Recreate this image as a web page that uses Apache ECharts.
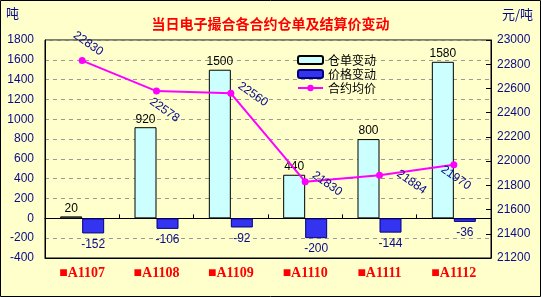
<!DOCTYPE html>
<html>
<head>
<meta charset="utf-8">
<script src="https://cdn.jsdelivr.net/npm/echarts@6/dist/echarts.min.js"></script>
<style>
html,body{margin:0;padding:0;background:#FFFFCC;}
#c{width:541px;height:297px;}
</style>
</head>
<body>
<div id="c"></div>
<script>
const categories = ['■A1107', '■A1108', '■A1109', '■A1110', '■A1111', '■A1112'];
const warehouseChange = [20, 920, 1500, 440, 800, 1580];
const priceChange = [-152, -106, -92, -200, -144, -36];
const avgPrice = [22830, 22578, 22560, 21830, 21884, 21970];
const leftTicks = { min: -400, max: 1800, interval: 200 };
const rightTicks = { min: 21200, max: 23000, interval: 200 };

const navy = '#0A0A8C';
const labelAngle = 35;
// desired on-screen label-centre shifts from each point
const lineLabelShifts = [[6, -17], [8, 19], [22, 1], [22, 2], [32, 7], [2, 13]];
const rad = labelAngle * Math.PI / 180;
const toLocal = ([sx, sy]) => [sx * Math.cos(rad) + sy * Math.sin(rad), -sx * Math.sin(rad) + sy * Math.cos(rad)];

const chart = echarts.init(document.getElementById('c'), null, { renderer: 'canvas' });
const plainNum = v => String(v);
const option = {
  backgroundColor: '#FFFFCC',
  animation: false,
  textStyle: { fontFamily: '"Noto Sans CJK SC", "DejaVu Sans", sans-serif' },
  title: {
    text: '当日电子撮合各合约仓单及结算价变动',
    left: 'center',
    top: 12,
    textStyle: { color: '#FF0000', fontSize: 14, fontWeight: 'bold', fontFamily: '"Noto Sans CJK SC", sans-serif' }
  },
  graphic: [
    { type: 'rect', shape: { x: 0.5, y: 0.5, width: 540, height: 296 }, style: { fill: 'none', stroke: '#000', lineWidth: 1 }, silent: true },
    { type: 'text', left: 6, top: 7, style: { text: '吨', fill: navy, font: '13px "Noto Sans CJK SC", sans-serif' } },
    { type: 'text', left: 502, top: 8, style: { text: '元/吨', fill: navy, font: '13px "Noto Sans CJK SC", sans-serif' } }
  ],
  legend: {
    orient: 'vertical',
    left: 292,
    top: 49,
    itemWidth: 25,
    itemHeight: 8,
    itemGap: 2,
    textStyle: { fontSize: 12, color: '#000' },
    data: ['仓单变动', '价格变动', '合约均价']
  },
  grid: { left: 45, right: 50, top: 40, bottom: 39, show: true, borderColor: '#000', borderWidth: 1, backgroundColor: 'transparent' },
  xAxis: [
    {
      type: 'category',
      data: categories,
      axisLine: { onZero: false, lineStyle: { color: '#000' } },
      axisTick: { show: false },
      axisLabel: { color: '#FF0000', fontWeight: 'bold', fontSize: 14, margin: 8, fontFamily: '"Liberation Serif", serif' }
    },
    {
      type: 'category',
      data: categories,
      position: 'bottom',
      axisLine: { onZero: true, onZeroAxisIndex: 0, lineStyle: { color: '#000' } },
      axisTick: { show: true, inside: true, length: 4, lineStyle: { color: '#000' } },
      axisLabel: { show: false }
    }
  ],
  yAxis: [
    {
      type: 'value',
      min: leftTicks.min, max: leftTicks.max, interval: leftTicks.interval,
      axisLine: { show: true, lineStyle: { color: '#000' } },
      axisTick: { show: false },
      axisLabel: { color: navy, fontSize: 12, margin: 11, formatter: plainNum, fontFamily: 'Arial, "Liberation Sans", sans-serif' },
      splitLine: { show: true, lineStyle: { color: '#9a9a9a', type: [4, 4], width: 1 } }
    },
    {
      type: 'value',
      min: rightTicks.min, max: rightTicks.max, interval: rightTicks.interval,
      axisLine: { show: true, lineStyle: { color: '#000' } },
      axisTick: { show: true, inside: true, length: 5, lineStyle: { color: '#000' } },
      axisLabel: { color: navy, fontSize: 12, margin: 6, formatter: plainNum, fontFamily: 'Arial, "Liberation Sans", sans-serif' },
      splitLine: { show: false }
    }
  ],
  series: [
    {
      name: '仓单变动',
      type: 'bar',
      xAxisIndex: 0, yAxisIndex: 0,
      data: warehouseChange,
      barWidth: 22,
      barGap: '0%',
      itemStyle: { color: '#CCFFFF', borderColor: '#000', borderWidth: 1 },
      label: { show: true, position: 'outside', distance: 2, color: '#000', fontSize: 12, fontFamily: 'Arial, "Liberation Sans", sans-serif' }
    },
    {
      name: '价格变动',
      type: 'bar',
      xAxisIndex: 0, yAxisIndex: 0,
      data: priceChange,
      barWidth: 22,
      barGap: '0%',
      itemStyle: { color: '#3333F0', borderColor: '#000080', borderWidth: 1 },
      label: { show: true, position: 'outside', distance: 5, color: navy, fontSize: 12, fontFamily: 'Arial, "Liberation Sans", sans-serif' }
    },
    {
      name: '合约均价',
      type: 'line',
      xAxisIndex: 0, yAxisIndex: 1,
      data: avgPrice.map((v, i) => ({
        value: v,
        label: { offset: toLocal(lineLabelShifts[i]) }
      })),
      symbol: 'circle',
      symbolSize: 7,
      lineStyle: { color: '#FF00FF', width: 2 },
      itemStyle: { color: '#FF00FF' },
      label: { show: true, position: 'inside', rotate: -labelAngle, color: navy, fontSize: 12, fontFamily: 'Arial, "Liberation Sans", sans-serif' },
      z: 5
    }
  ]
};
chart.setOption(option);
</script>
</body>
</html>
